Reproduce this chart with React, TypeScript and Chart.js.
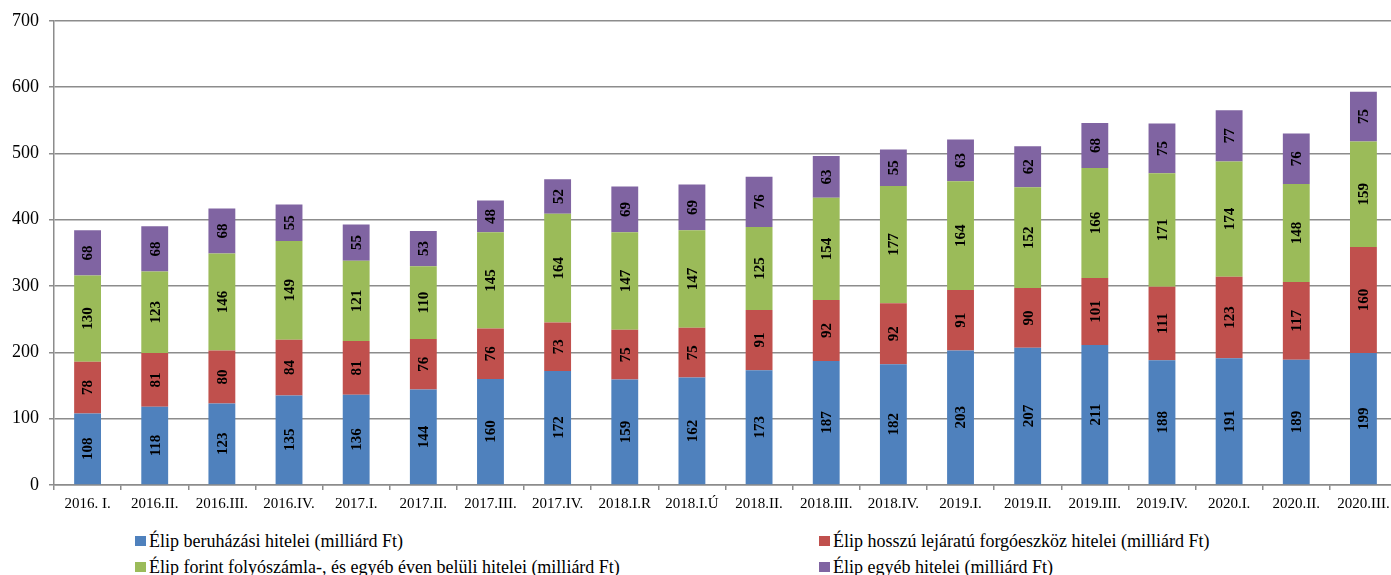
import React, { useEffect, useRef } from "react";
import { Chart, registerables } from "chart.js";

Chart.register(...registerables);

const categories = [
  "2016. I.", "2016.II.", "2016.III.", "2016.IV.", "2017.I.", "2017.II.", "2017.III.", "2017.IV.",
  "2018.I.R", "2018.I.Ú", "2018.II.", "2018.III.", "2018.IV.", "2019.I.", "2019.II.", "2019.III.",
  "2019.IV.", "2020.I.", "2020.II.", "2020.III.",
];
const beruhazasi = [108, 118, 123, 135, 136, 144, 160, 172, 159, 162, 173, 187, 182, 203, 207, 211, 188, 191, 189, 199];
const forgoeszkoz = [78, 81, 80, 84, 81, 76, 76, 73, 75, 75, 91, 92, 92, 91, 90, 101, 111, 123, 117, 160];
const folyoszamla = [130, 123, 146, 149, 121, 110, 145, 164, 147, 147, 125, 154, 177, 164, 152, 166, 171, 174, 148, 159];
const egyeb = [68, 68, 68, 55, 55, 53, 48, 52, 69, 69, 76, 63, 55, 63, 62, 68, 75, 77, 76, 75];

const seriesNames = [
  "Élip beruházási hitelei (milliárd Ft)",
  "Élip hosszú lejáratú forgóeszköz hitelei (milliárd Ft)",
  "Élip forint folyószámla-, és egyéb éven belüli hitelei (milliárd Ft)",
  "Élip egyéb hitelei (milliárd Ft)",
];
const seriesColors = ["#4F81BD", "#C0504D", "#9BBB59", "#8064A2"];
const yTicks = [0, 100, 200, 300, 400, 500, 600, 700];

const FONT = "'Liberation Serif', 'Times New Roman', serif";
const GRID = "#8c8c8c";

const labelPlugin = {
  id: "segLabels",
  afterDatasetsDraw(chart: any) {
    const ctx = chart.ctx;
    ctx.save();
    ctx.font = `bold 15px ${FONT}`;
    ctx.fillStyle = "#000";
    ctx.textAlign = "center";
    ctx.textBaseline = "middle";
    chart.data.datasets.forEach((ds: any, di: number) => {
      const meta = chart.getDatasetMeta(di);
      meta.data.forEach((bar: any, i: number) => {
        const cy = (bar.y + bar.base) / 2;
        ctx.save();
        ctx.translate(bar.x, cy);
        ctx.rotate(-Math.PI / 2);
        ctx.fillText(String(ds.data[i]), 0, 1);
        ctx.restore();
      });
    });
    ctx.restore();
  },
};

export default function App() {
  const ref = useRef<HTMLCanvasElement>(null);

  useEffect(() => {
    document.body.style.margin = "0";
    document.body.style.overflow = "hidden";
    const values = [beruhazasi, forgoeszkoz, folyoszamla, egyeb];
    const chart = new Chart(ref.current!, {
      type: "bar",
      data: {
        labels: categories,
        datasets: values.map((v, i) => ({
          label: seriesNames[i],
          data: v,
          backgroundColor: seriesColors[i],
          borderWidth: 0,
          barPercentage: 0.4,
          categoryPercentage: 1,
        })),
      },
      options: {
        animation: false,
        responsive: false,
        maintainAspectRatio: false,
        layout: { padding: { top: 20, right: 3, left: 0, bottom: 0 } },
        plugins: { legend: { display: false }, tooltip: { enabled: false } },
        scales: {
          x: {
            stacked: true,
            offset: true,
            afterFit: (s: any) => { s.height = 35; },
            grid: { offset: true, drawOnChartArea: false, drawTicks: true, tickLength: 5, color: GRID, lineWidth: 1.5 },
            border: { display: true, color: GRID, width: 1.5 },
            ticks: { color: "#000", font: { family: FONT, size: 15 }, padding: 5, maxRotation: 0, autoSkip: false },
          },
          y: {
            stacked: true,
            min: 0,
            max: 700,
            afterFit: (s: any) => { s.width = 54; },
            afterBuildTicks: (s: any) => { s.ticks = yTicks.map((v) => ({ value: v })); },
            grid: { color: GRID, lineWidth: 1.5, tickLength: 5 },
            border: { display: true, color: GRID, width: 1.5 },
            ticks: { color: "#000", font: { family: FONT, size: 18 }, padding: 10 },
          },
        },
      },
      plugins: [labelPlugin],
    });
    return () => chart.destroy();
  }, []);

  const legendItem = (i: number, left: number, top: number) => (
    <div
      key={i}
      style={{
        position: "absolute",
        left,
        top,
        display: "flex",
        alignItems: "center",
        fontFamily: FONT,
        fontSize: 18,
        color: "#000",
        whiteSpace: "nowrap",
        lineHeight: "20px",
      }}
    >
      <span style={{ display: "inline-block", width: 11, height: 10, background: seriesColors[i], marginRight: 3 }} />
      <span>{seriesNames[i]}</span>
    </div>
  );

  return (
    <div style={{ position: "relative", width: 1391, height: 575, overflow: "hidden", background: "#fff" }}>
      <canvas ref={ref} width={1400} height={520} style={{ position: "absolute", left: 0, top: 0 }} />
      {legendItem(0, 135, 531)}
      {legendItem(1, 819, 531)}
      {legendItem(2, 135, 557)}
      {legendItem(3, 819, 557)}
    </div>
  );
}
